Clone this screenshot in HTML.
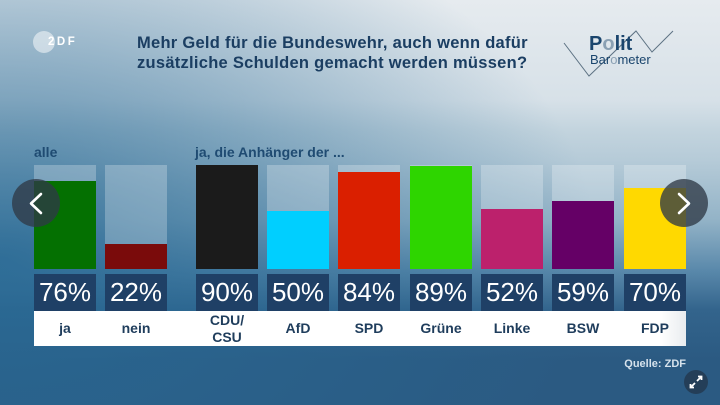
<!DOCTYPE html>
<html><head><meta charset="utf-8"><style>
*{margin:0;padding:0;box-sizing:border-box}
html,body{width:720px;height:405px;overflow:hidden}
body{position:relative;font-family:"Liberation Sans",Arial,sans-serif;
background:
 radial-gradient(ellipse 600px 390px at 0px 260px, rgba(40,105,148,0.88) 0%, rgba(40,105,148,0.56) 35%, rgba(40,105,148,0) 100%),
 linear-gradient(to bottom,#e6ebef 0px,#d7e1e8 100px,#c3d4de 130px,#b6cbd8 160px,#93b3c7 220px,#5a89ab 270px,#33648c 310px,#2b5a82 360px,#2b5a82 405px);}
.abs{position:absolute}
.title{left:137px;top:33px;font-size:16.5px;line-height:20px;font-weight:bold;color:#1b3e62;letter-spacing:0.27px;white-space:nowrap}
.grp{top:144px;font-size:14px;line-height:16px;font-weight:bold;color:#1f4b72;white-space:nowrap}
.bar{top:165px;width:62px;height:104px;background:rgba(255,255,255,0.25)}
.fill{position:absolute;left:0;bottom:0;width:62px}
.pct{top:274px;width:62px;height:37px;background:#1f4066;color:#fff;font-size:26px;line-height:37px;text-align:center}
.strip{left:34px;top:311px;width:652px;height:35px;background:linear-gradient(to right,#fff 0,#fff 96%,#e9ecef 100%)}
.lab{top:311px;width:62px;height:35px;line-height:35px;text-align:center;font-size:14px;font-weight:bold;color:#1f3d5c}
.lab2{top:312px;width:62px;line-height:16.5px;text-align:center;font-size:14px;font-weight:bold;color:#1f3d5c}
.src{right:34px;top:358px;font-size:11px;font-weight:bold;color:#d6e2ec}
</style></head><body>

<!-- ZDF logo -->
<div class="abs" style="left:33px;top:31px;width:22px;height:22px;border-radius:50%;background:rgba(255,255,255,0.5)"></div>
<div class="abs" style="left:48px;top:36px;font-size:11.5px;line-height:13px;font-weight:bold;color:#fff;letter-spacing:2.5px">2DF</div>

<div class="abs title">Mehr Geld für die Bundeswehr, auch wenn dafür<br>zusätzliche Schulden gemacht werden müssen?</div>

<!-- Polit Barometer logo -->
<svg class="abs" style="left:0;top:0" width="720" height="405">
 <polyline points="564,43 589,76 636,31 652,52 673,31" fill="none" stroke="#5d7283" stroke-width="1"/>
</svg>
<div class="abs" style="left:589px;top:33px;font-size:20px;line-height:22px;font-weight:bold;color:#1a456d">P<span style="color:#8aa0b3">o</span>lit</div>
<div class="abs" style="left:590px;top:52px;font-size:13px;line-height:15px;color:#1a456d">Bar<span style="color:#8aa0b3">o</span>meter</div>

<div class="abs grp" style="left:34px">alle</div>
<div class="abs grp" style="left:195px">ja, die Anhänger der ...</div>

<!-- bars -->
<div class="abs bar" style="left:34px"><div class="fill" style="height:87.8px;background:#047001"></div></div>
<div class="abs bar" style="left:105px"><div class="fill" style="height:25.4px;background:#7a0b0b"></div></div>
<div class="abs bar" style="left:196px"><div class="fill" style="height:104px;background:#1b1b1b"></div></div>
<div class="abs bar" style="left:267px"><div class="fill" style="height:57.8px;background:#00cfff"></div></div>
<div class="abs bar" style="left:338px"><div class="fill" style="height:97.1px;background:#da1f00"></div></div>
<div class="abs bar" style="left:410px"><div class="fill" style="height:102.8px;background:#2ed500"></div></div>
<div class="abs bar" style="left:481px"><div class="fill" style="height:60.1px;background:#bc216c"></div></div>
<div class="abs bar" style="left:552px"><div class="fill" style="height:68.2px;background:#650066"></div></div>
<div class="abs bar" style="left:624px"><div class="fill" style="height:80.9px;background:#ffd900"></div></div>

<!-- percent boxes -->
<div class="abs pct" style="left:34px">76%</div>
<div class="abs pct" style="left:105px">22%</div>
<div class="abs pct" style="left:196px">90%</div>
<div class="abs pct" style="left:267px">50%</div>
<div class="abs pct" style="left:338px">84%</div>
<div class="abs pct" style="left:410px">89%</div>
<div class="abs pct" style="left:481px">52%</div>
<div class="abs pct" style="left:552px">59%</div>
<div class="abs pct" style="left:624px">70%</div>

<div class="abs strip"></div>
<div class="abs lab" style="left:34px">ja</div>
<div class="abs lab" style="left:105px">nein</div>
<div class="abs lab2" style="left:196px">CDU/<br>CSU</div>
<div class="abs lab" style="left:267px">AfD</div>
<div class="abs lab" style="left:338px">SPD</div>
<div class="abs lab" style="left:410px">Grüne</div>
<div class="abs lab" style="left:481px">Linke</div>
<div class="abs lab" style="left:552px">BSW</div>
<div class="abs lab" style="left:624px">FDP</div>

<div class="abs src">Quelle: ZDF</div>

<!-- nav buttons & expand -->
<svg class="abs" style="left:0;top:0" width="720" height="405">
 <circle cx="36" cy="203" r="24" fill="rgba(48,58,70,0.78)"/>
 <polyline points="41,194 31,203.5 41,213" fill="none" stroke="#fff" stroke-width="2.6" stroke-linecap="round" stroke-linejoin="round"/>
 <circle cx="684" cy="203" r="24" fill="rgba(48,58,70,0.78)"/>
 <polyline points="679,194 689,203.5 679,213" fill="none" stroke="#fff" stroke-width="2.6" stroke-linecap="round" stroke-linejoin="round"/>
 <circle cx="696" cy="382" r="12" fill="#243e58"/>
 <g stroke="#fff" stroke-width="1.8" fill="none">
  <line x1="697" y1="381" x2="701.5" y2="376.5"/>
  <polyline points="698,376.5 701.5,376.5 701.5,380"/>
  <line x1="695" y1="383" x2="690.5" y2="387.5"/>
  <polyline points="690.5,384 690.5,387.5 694,387.5"/>
 </g>
</svg>

</body></html>
